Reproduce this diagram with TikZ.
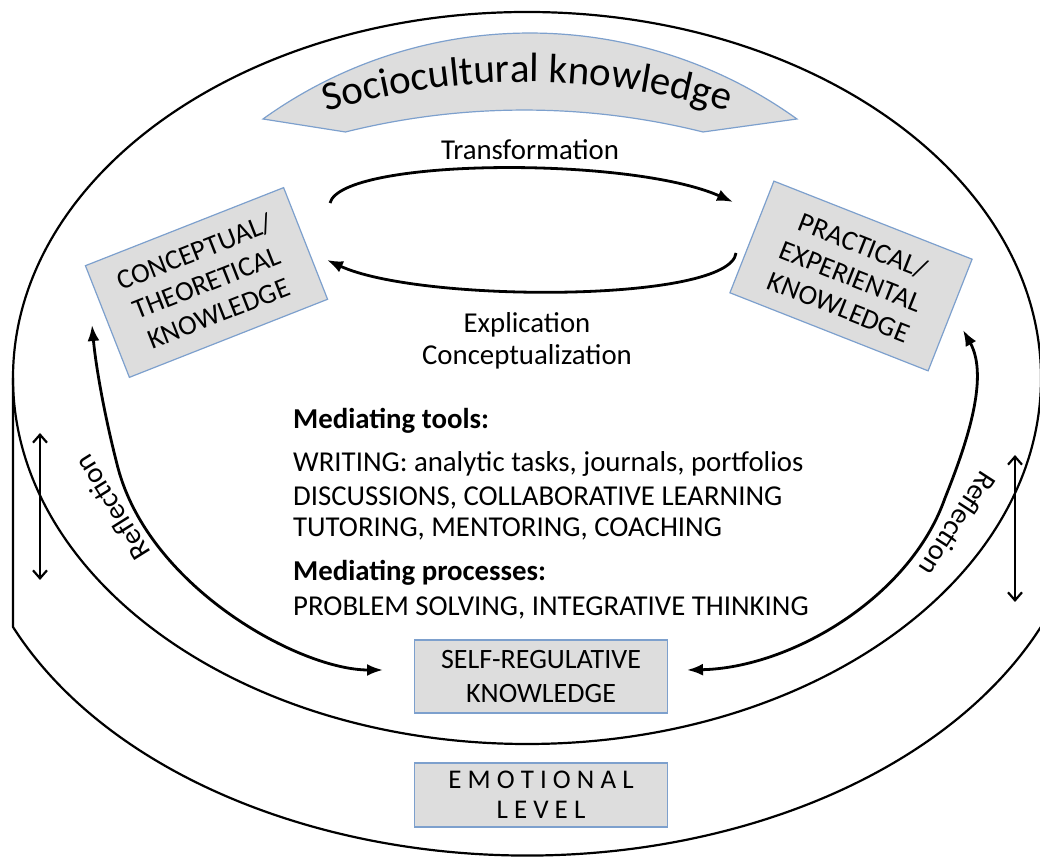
\documentclass[tikz,border=0pt]{standalone}
\usepackage{fontspec}
\setmainfont{Carlito}
\usetikzlibrary{arrows.meta, decorations.text}
\definecolor{boxfill}{RGB}{221,221,221}
\definecolor{boxline}{RGB}{125,160,205}

\begin{document}
\begin{tikzpicture}[x=1pt, y=1pt]
	\tikzstyle{rim} = [line width=2.2pt]
	\tikzstyle{knowbox} = [draw=boxline, fill=boxfill, line width=1.2pt, align=center, inner sep=0pt, font=\fontsize{28}{33}\selectfont]
	\tikzstyle{txt} = [font=\fontsize{28.8}{32}\selectfont, align=center, inner sep=0pt]
	\tikzstyle{flowarrow} = [line width=2.8pt, -{Latex[length=16pt,width=12pt]}]
	\tikzstyle{reflarrow} = [line width=2.8pt, {Latex[length=16pt,width=12pt]}-{Latex[length=16pt,width=12pt]}]
	\tikzstyle{levelarrow} = [line width=2.2pt, {Straight Barb[length=8pt,width=14pt]}-{Straight Barb[length=8pt,width=14pt]}]
	\useasboundingbox (0,0) rectangle (1040,858);
	\draw[rim] (527,480) ellipse [x radius=514, y radius=366];
	\draw[rim] (13,480) -- (13,231) arc [start angle=203.4, end angle=336.6, x radius=560, y radius=379];
	\draw[draw=boxline, fill=boxfill, line width=1.2pt] (263,739) arc [start angle=125.7, end angle=54.3, radius=457.5] -- (703,726) arc [start angle=76, end angle=104, radius=739] -- cycle;
	\path[decorate, decoration={text along path, text align=center, text={|\fontsize{41}{41}\selectfont|Sociocultural knowledge}}] (287.6,733.8) arc [start angle=110, end angle=70, radius=700];
	\node[knowbox, minimum width=213pt, minimum height=120pt, rotate=21.5] (conc) at (206.5,575.5) {CONCEPTUAL/\\THEORETICAL\\KNOWLEDGE};
	\node[knowbox, minimum width=213pt, minimum height=120pt, rotate=-21.5] (prac) at (851,582) {PRACTICAL/\\EXPERIENTAL\\KNOWLEDGE};
	\node[knowbox, minimum width=253pt, minimum height=73pt, font=\fontsize{28}{34}\selectfont] (self) at (541,181.5) {SELF-REGULATIVE\\KNOWLEDGE};
	\node[knowbox, minimum width=253pt, minimum height=64pt, font=\fontsize{27}{30}\selectfont] (emo) at (541,63) {E M O T I O N A L\\L E V E L};
	\node[txt] (tf) at (530,708) {Transformation};
	\node[txt] (ex) at (527,517) {Explication\\Conceptualization};
	\node[txt, anchor=base west] (hd1) at (293,429) {\bfseries Mediating tools:};
	\node[txt, anchor=base west] (ln1) at (293,386) {WRITING: analytic tasks, journals, portfolios};
	\node[txt, anchor=base west] (ln2) at (293,352) {DISCUSSIONS, COLLABORATIVE LEARNING};
	\node[txt, anchor=base west] (ln3) at (293,321) {TUTORING, MENTORING, COACHING};
	\node[txt, anchor=base west] (hd2) at (293,277) {\bfseries Mediating processes:};
	\node[txt, anchor=base west] (ln4) at (293,242) {PROBLEM SOLVING, INTEGRATIVE THINKING};
	\node[txt, rotate=122] (rfl) at (112,350) {Reflection};
	\node[txt, rotate=-123] (rfr) at (958,334) {Reflection};
	\coordinate (tf-a) at (330,655);
	\coordinate (tf-b) at (733,656);
	\coordinate (ex-a) at (736,605);
	\coordinate (ex-b) at (327,598);
	\coordinate (rl-a) at (383,188);
	\coordinate (rl-b) at (92,533);
	\coordinate (rr-a) at (687,188);
	\coordinate (rr-b) at (963,528);
	\coordinate (lv-a) at (40,425);
	\coordinate (lv-b) at (40,278);
	\coordinate (rv-a) at (1015,403);
	\coordinate (rv-b) at (1015,256);
	\draw[flowarrow] (tf-a) .. controls (342,700) and (630,702) .. (tf-b);
	\draw[flowarrow] (ex-a) .. controls (730,555) and (420,555) .. (ex-b);
	\draw[reflarrow] (rl-a) .. controls (300,188) and (150,270) .. (118,390) .. controls (105,440) and (96,490) .. (rl-b);
	\draw[reflarrow] (rr-a) .. controls (790,190) and (910,260) .. (945,360) .. controls (965,410) and (990,480) .. (rr-b);
	\draw[levelarrow] (lv-a) -- (lv-b);
	\draw[levelarrow] (rv-a) -- (rv-b);
\end{tikzpicture}
\end{document}
